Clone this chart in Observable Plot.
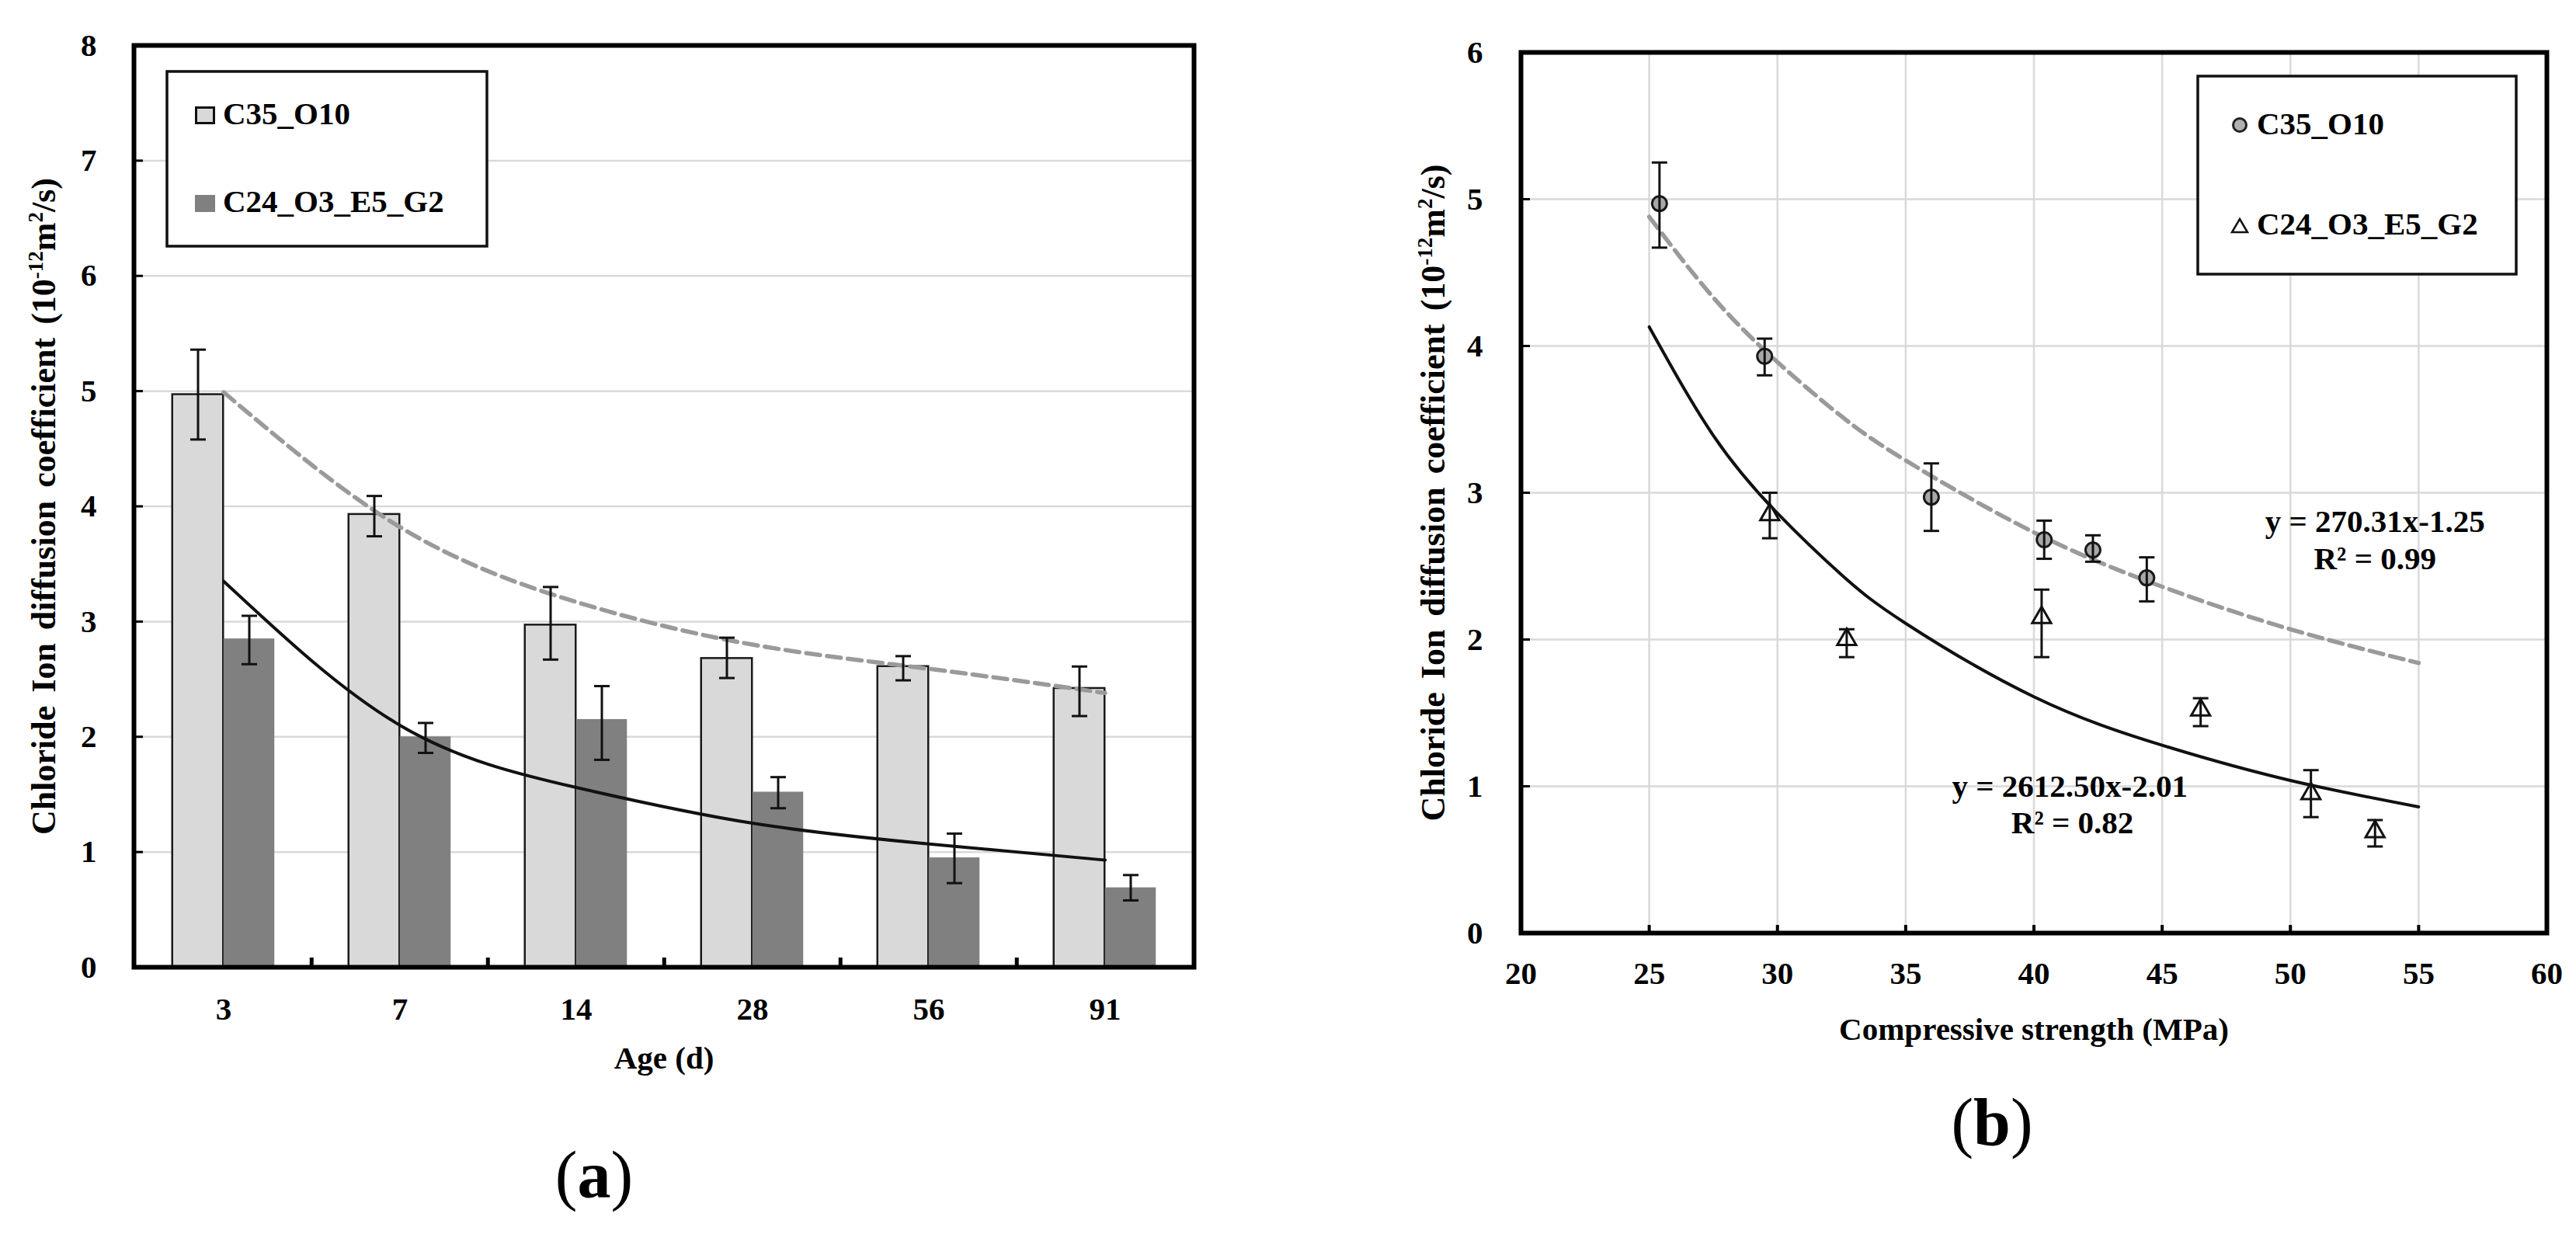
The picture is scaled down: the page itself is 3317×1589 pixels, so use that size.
<!DOCTYPE html>
<html>
<head>
<meta charset="utf-8">
<script src="https://cdn.jsdelivr.net/npm/d3@7"></script>
<script src="https://cdn.jsdelivr.net/npm/@observablehq/plot@0.6"></script>
<style>
  html, body { margin: 0; padding: 0; background: #fff; }
  body { width: 3317px; height: 1589px; position: relative; overflow: hidden;
         font-family: "Liberation Serif", "Times New Roman", serif; color: #000; }
  .panel { position: absolute; top: 0; }
  .caption { position: absolute; width: 300px; text-align: center; font-size: 86px; line-height: 100px; font-weight: normal; }
  #overlay { position: absolute; left: 0; top: 0; pointer-events: none; }
</style>
</head>
<body>
<div id="a" class="panel" style="left:0px"></div>
<div id="b" class="panel" style="left:1660px"></div>
<div class="caption" style="left:615px;top:1463px">(<b>a</b>)</div>
<div class="caption" style="left:2415px;top:1395px">(<b>b</b>)</div>
<svg id="overlay" width="3317" height="1589"></svg>
<script>
// ---------------- data ----------------
const seriesNames = ["C35_O10", "C24_O3_E5_G2"];
const ages = ["3", "7", "14", "28", "56", "91"];
const c35 = [4.97, 3.93, 2.97, 2.68, 2.61, 2.42];
const c24 = [2.85, 2.00, 2.15, 1.52, 0.95, 0.69];
// panel (a) error-bar ends
const c35LoA = [4.58, 3.74, 2.67, 2.51, 2.49, 2.18];
const c35HiA = [5.36, 4.09, 3.30, 2.86, 2.70, 2.61];
const c24LoA = [2.63, 1.86, 1.80, 1.38, 0.73, 0.58];
const c24HiA = [3.05, 2.12, 2.44, 1.65, 1.16, 0.80];
// panel (a) trend curves read at each age
const trendC35A = [4.99, 3.82, 3.17, 2.80, 2.59, 2.38];
const trendC24A = [3.35, 2.10, 1.56, 1.25, 1.07, 0.93];
// panel (b) compressive strengths
const strengthC35 = [25.4, 29.5, 36.0, 40.4, 42.3, 44.4];
const strengthC24 = [29.7, 32.7, 40.3, 46.5, 50.8, 53.3];
const c35LoB = [4.67, 3.80, 2.74, 2.55, 2.53, 2.26];
const c35HiB = [5.25, 4.05, 3.20, 2.81, 2.71, 2.56];
const c24LoB = [2.69, 1.88, 1.88, 1.41, 0.79, 0.59];
const c24HiB = [3.00, 2.07, 2.34, 1.60, 1.11, 0.77];
// panel (b) fitted curves
const fitX   = [25, 27.5, 30, 32.5, 35, 40, 45, 50, 55];
const fitC35 = [4.88, 4.33, 3.89, 3.52, 3.22, 2.73, 2.36, 2.07, 1.84];
const fitC24 = [4.13, 3.39, 2.86, 2.44, 2.11, 1.61, 1.28, 1.04, 0.86];
const eqText = ["y = 270.31x-1.25", "R\u00B2 = 0.99", "y = 2612.50x-2.01", "R\u00B2 = 0.82"];
const eqX = [53.3, 53.3, 41.4, 41.5];
const eqY = [2.80, 2.55, 1.00, 0.75];
// ticks and titles
const yTicksA = [0, 1, 2, 3, 4, 5, 6, 7, 8];
const xTicksB = [20, 25, 30, 35, 40, 45, 50, 55, 60];
const yTicksB = [0, 1, 2, 3, 4, 5, 6];
const yTitle = ["Chloride Ion diffusion coefficient (10", "-12", "m", "2", "/s)"];
const xTitleA = "Age (d)";
const xTitleB = "Compressive strength (MPa)";

// ---------------- helpers ----------------
const FONT = "'Liberation Serif', 'Times New Roman', serif";
const capSymbol = {draw(ctx, size) { const r = Math.sqrt(size / Math.PI); ctx.moveTo(-r, 0); ctx.lineTo(r, 0); }};
const baseStyle = {fontFamily: FONT, fontWeight: "bold", fontSize: "41px", color: "#000", background: "#fff", overflow: "visible"};
const intFormat = d => String(d);

function styleYLabel(svg) {
  const t = svg.querySelector('g[aria-label="y-axis label"] text');
  if (!t) return;
  t.setAttribute("font-size", 44);
  t.setAttribute("word-spacing", 6);
  while (t.firstChild) t.removeChild(t.firstChild);
  yTitle.forEach((s, i) => {
    const ts = document.createElementNS("http://www.w3.org/2000/svg", "tspan");
    ts.textContent = s;
    if (i % 2 === 1) { ts.setAttribute("font-size", 27); ts.setAttribute("dy", -16); }
    else if (i > 0) ts.setAttribute("dy", 16);
    t.appendChild(ts);
  });
}

// ---------------- panel (a) ----------------
const WA = 1660, HA = 1400;
const mA = {top: 58, right: 123, bottom: 155, left: 172};
const bwA = (WA - mA.left - mA.right) / ages.length;
const plotHA = HA - mA.top - mA.bottom;
const barW = 66;
const rowsA = ages.map((age, i) => ({
  age, c35: c35[i], c24: c24[i],
  c35Lo: c35LoA[i], c35Hi: c35HiA[i], c24Lo: c24LoA[i], c24Hi: c24HiA[i],
  t35: trendC35A[i], t24: trendC24A[i]
}));
const errA = [];
for (const [lo, hi, dx] of [["c35Lo", "c35Hi", -barW / 2], ["c24Lo", "c24Hi", barW / 2]]) {
  errA.push(Plot.ruleX(rowsA, {x: "age", y1: lo, y2: hi, dx, stroke: "#111", strokeWidth: 3}));
  errA.push(Plot.dot(rowsA, {x: "age", y: lo, dx, symbol: capSymbol, r: 10, fill: "none", stroke: "#111", strokeWidth: 3}));
  errA.push(Plot.dot(rowsA, {x: "age", y: hi, dx, symbol: capSymbol, r: 10, fill: "none", stroke: "#111", strokeWidth: 3}));
}
const chartA = Plot.plot({
  width: WA, height: HA,
  marginTop: mA.top, marginRight: mA.right, marginBottom: mA.bottom, marginLeft: mA.left,
  style: baseStyle,
  x: {domain: ages, padding: 0},
  y: {domain: [0, 8]},
  marks: [
    Plot.ruleY(yTicksA.slice(1, -1), {stroke: "#d9d9d9", strokeWidth: 2.5}),
    Plot.barY(rowsA, {x: "age", y: "c35", fill: "#d9d9d9", stroke: "#1a1a1a", strokeWidth: 2.5,
                      insetLeft: bwA / 2 - barW, insetRight: bwA / 2}),
    Plot.barY(rowsA, {x: "age", y: "c24", fill: "#808080", insetLeft: bwA / 2, insetRight: bwA / 2 - barW}),
    Plot.line(rowsA, {x: "age", y: "t35", stroke: "#9a9a9a", strokeWidth: 5.5, strokeDasharray: "18,9", curve: "natural"}),
    Plot.line(rowsA, {x: "age", y: "t24", stroke: "#111", strokeWidth: 4, curve: "natural"}),
    ...errA,
    Plot.tickX(ages.slice(1), {x: d => d, dx: -bwA / 2, insetTop: plotHA - 12, stroke: "#000", strokeWidth: 5}),
    Plot.axisY({ticks: yTicksA, tickSize: 12, dx: 12, tickFormat: () => "", label: null, strokeWidth: 3}),
    Plot.axisY({ticks: yTicksA, tickSize: 0, tickPadding: 48, fontSize: 41, tickFormat: intFormat, label: yTitle.join(""),
                labelAnchor: "center", labelOffset: 133, labelArrow: "none"}),
    Plot.axisX({tickSize: 0, tickPadding: 38, fontSize: 41, label: xTitleA,
                labelAnchor: "center", labelOffset: 130, labelArrow: "none"}),
    Plot.frame({stroke: "#000", strokeWidth: 6})
  ]
});
styleYLabel(chartA);
document.getElementById("a").appendChild(chartA);

// ---------------- panel (b) ----------------
const WB = 1657, HB = 1400;
const mB = {top: 67, right: 38, bottom: 199, left: 298};
const rowsB35 = strengthC35.map((x, i) => ({x, y: c35[i], lo: c35LoB[i], hi: c35HiB[i]}));
const rowsB24 = strengthC24.map((x, i) => ({x, y: c24[i], lo: c24LoB[i], hi: c24HiB[i]}));
const fitRows = fitX.map((x, i) => ({x, c35: fitC35[i], c24: fitC24[i]}));
const eqRows = eqText.map((text, i) => ({text, x: eqX[i], y: eqY[i]}));
const errB = [];
for (const rows of [rowsB35, rowsB24]) {
  errB.push(Plot.ruleX(rows, {x: "x", y1: "lo", y2: "hi", stroke: "#111", strokeWidth: 3}));
  errB.push(Plot.dot(rows, {x: "x", y: "lo", symbol: capSymbol, r: 10, fill: "none", stroke: "#111", strokeWidth: 3}));
  errB.push(Plot.dot(rows, {x: "x", y: "hi", symbol: capSymbol, r: 10, fill: "none", stroke: "#111", strokeWidth: 3}));
}
const chartB = Plot.plot({
  width: WB, height: HB,
  marginTop: mB.top, marginRight: mB.right, marginBottom: mB.bottom, marginLeft: mB.left,
  style: baseStyle,
  x: {domain: [20, 60]},
  y: {domain: [0, 6]},
  marks: [
    Plot.ruleX(xTicksB.slice(1, -1), {stroke: "#d9d9d9", strokeWidth: 2.5}),
    Plot.ruleY(yTicksB.slice(1, -1), {stroke: "#d9d9d9", strokeWidth: 2.5}),
    Plot.line(fitRows, {x: "x", y: "c35", stroke: "#9a9a9a", strokeWidth: 5.5, strokeDasharray: "18,9", curve: "natural"}),
    Plot.line(fitRows, {x: "x", y: "c24", stroke: "#111", strokeWidth: 4, curve: "natural"}),
    Plot.dot(rowsB35, {x: "x", y: "y", r: 9.5, fill: "#a8a8a8", stroke: "#1a1a1a", strokeWidth: 3}),
    Plot.dot(rowsB24, {x: "x", y: "y", symbol: "triangle", r: 9, fill: "#fff", stroke: "#111", strokeWidth: 3}),
    ...errB,
    Plot.text(eqRows, {x: "x", y: "y", text: "text", fontSize: 41, fill: "#000"}),
    Plot.axisX({ticks: xTicksB.slice(1, -1), tickSize: 10, dy: -10, tickFormat: () => "", label: null, strokeWidth: 4}),
    Plot.axisY({ticks: yTicksB.slice(1, -1), tickSize: 12, dx: 12, tickFormat: () => "", label: null, strokeWidth: 3}),
    Plot.axisX({ticks: xTicksB, tickSize: 0, tickPadding: 36, fontSize: 41, tickFormat: intFormat, label: xTitleB,
                labelAnchor: "center", labelOffset: 137, labelArrow: "none"}),
    Plot.axisY({ticks: yTicksB, tickSize: 0, tickPadding: 49, fontSize: 41, tickFormat: intFormat, label: yTitle.join(""),
                labelAnchor: "center", labelOffset: 130, labelArrow: "none"}),
    Plot.frame({stroke: "#000", strokeWidth: 6})
  ]
});
styleYLabel(chartB);
document.getElementById("b").appendChild(chartB);

// ---------------- legends (overlay) ----------------
const ov = d3.select("#overlay").style("font-family", FONT).style("font-weight", "bold");
// legend (a)
ov.append("rect").attr("x", 215).attr("y", 92).attr("width", 412).attr("height", 225)
  .attr("fill", "#fff").attr("stroke", "#111").attr("stroke-width", 3.5);
ov.append("rect").attr("x", 252.5).attr("y", 138.5).attr("width", 23).attr("height", 20)
  .attr("fill", "#d9d9d9").attr("stroke", "#111").attr("stroke-width", 3);
ov.append("rect").attr("x", 251).attr("y", 251).attr("width", 26).attr("height", 22).attr("fill", "#808080");
ov.append("text").attr("x", 287).attr("y", 160).attr("font-size", 41).text(seriesNames[0]);
ov.append("text").attr("x", 287).attr("y", 273).attr("font-size", 41).text(seriesNames[1]);
// legend (b)
ov.append("rect").attr("x", 2830).attr("y", 98).attr("width", 410).attr("height", 255)
  .attr("fill", "#fff").attr("stroke", "#111").attr("stroke-width", 3.5);
ov.append("circle").attr("cx", 2884).attr("cy", 161).attr("r", 8.5)
  .attr("fill", "#b0b0b0").attr("stroke", "#222").attr("stroke-width", 3);
ov.append("path").attr("d", "M2884,282L2894,299L2874,299Z")
  .attr("fill", "#fff").attr("stroke", "#111").attr("stroke-width", 2.5);
ov.append("text").attr("x", 2906).attr("y", 173).attr("font-size", 41).text(seriesNames[0]);
ov.append("text").attr("x", 2906).attr("y", 302).attr("font-size", 41).text(seriesNames[1]);
</script>
</body>
</html>
